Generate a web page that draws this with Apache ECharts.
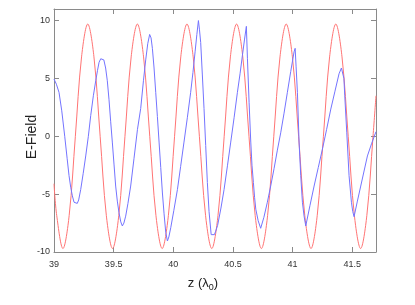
<!DOCTYPE html>
<html lang="en" style="width: 100%;height:100%">
    <head>
        <meta charset="UTF-8">
        <title>E-Field</title>
        <script src="https://cdn.jsdelivr.net/npm/echarts@6.0.0/dist/echarts.min.js"></script>
    </head>

    <body style="width: 100%;height:100%;margin:0;background:#fff">
        <div id="line" style="width: 415px;height:305px"></div>
        <script>
            // tick labels
            var xTicks = [39, 39.5, 40, 40.5, 41, 41.5];
            var yTicks = [-10, -5, 0, 5, 10];

            // red: incident field
            var redZ = [39.000, 39.023, 39.075, 39.127, 39.179, 39.231, 39.283, 39.335, 39.387, 39.439,
                        39.491, 39.543, 39.595, 39.647, 39.699, 39.751, 39.803, 39.855, 39.907, 39.959,
                        40.011, 40.063, 40.115, 40.167, 40.219, 40.271, 40.323, 40.375, 40.427, 40.479,
                        40.531, 40.583, 40.635, 40.687, 40.739, 40.791, 40.843, 40.895, 40.947, 40.999,
                        41.051, 41.103, 41.155, 41.207, 41.259, 41.311, 41.363, 41.415, 41.467, 41.519,
                        41.571, 41.623, 41.675, 41.700];
            var redE = [-4.1, -6.86, -9.7, -6.86, 0, 6.86, 9.7, 6.86, 0, -6.86,
                        -9.7, -6.86, 0, 6.86, 9.7, 6.86, 0, -6.86, -9.7, -6.86,
                        0, 6.86, 9.7, 6.86, 0, -6.86, -9.7, -6.86, 0, 6.86,
                        9.7, 6.86, 0, -6.86, -9.7, -6.86, 0, 6.86, 9.7, 6.86,
                        0, -6.86, -9.7, -6.86, 0, 6.86, 9.7, 6.86, 0, -6.86,
                        -9.7, -6.86, 0, 3.5];

            // blue: distorted field
            var blueZ = [39.000, 39.020, 39.042, 39.065, 39.090, 39.110, 39.126, 39.140, 39.154, 39.168,
                         39.180, 39.195, 39.207, 39.224, 39.245, 39.266, 39.288, 39.308, 39.330, 39.350,
                         39.365, 39.378, 39.392, 39.405, 39.418, 39.433, 39.447, 39.461, 39.475, 39.489,
                         39.503, 39.517, 39.531, 39.545, 39.560, 39.573, 39.586, 39.601, 39.620, 39.643,
                         39.671, 39.700, 39.727, 39.750, 39.769, 39.786, 39.802, 39.814, 39.825, 39.839,
                         39.853, 39.867, 39.881, 39.895, 39.909, 39.923, 39.937, 39.951, 39.963, 39.979,
                         40.005, 40.035, 40.062, 40.090, 40.118, 40.146, 40.165, 40.183, 40.198, 40.211,
                         40.220, 40.230, 40.244, 40.258, 40.272, 40.286, 40.300, 40.318, 40.330, 40.345,
                         40.356, 40.372, 40.400, 40.426, 40.455, 40.482, 40.510, 40.538, 40.560, 40.580,
                         40.598, 40.613, 40.622, 40.636, 40.650, 40.660, 40.672, 40.682, 40.692, 40.712,
                         40.733, 40.760, 40.789, 40.817, 40.845, 40.873, 40.901, 40.929, 40.957, 40.985,
                         41.013, 41.022, 41.030, 41.041, 41.055, 41.069, 41.083, 41.097, 41.111, 41.146,
                         41.181, 41.216, 41.251, 41.286, 41.321, 41.356, 41.390, 41.410, 41.424, 41.431,
                         41.438, 41.455, 41.474, 41.494, 41.505, 41.516, 41.544, 41.572, 41.600, 41.628,
                         41.664, 41.700];
            var blueE = [4.95, 4.5, 3.8, 2.2, 0.0, -1.9, -3.4, -4.4, -5.15, -5.7,
                         -5.85, -5.8, -5.5, -4.6, -3.2, -1.7, 0.0, 1.8, 3.5, 4.8,
                         5.7, 6.4, 6.7, 6.8, 6.6, 5.9, 4.8, 3.2, 1.3, -0.5,
                         -2.4, -4.3, -5.6, -6.6, -7.4, -7.75, -7.5, -6.9, -5.8, -4.3,
                         -1.9, 0.6, 2.4, 4.8, 6.6, 8.0, 8.8, 8.5, 7.6, 5.9,
                         3.8, 1.7, -0.5, -2.7, -4.9, -6.7, -8.3, -9.05, -8.7, -7.9,
                         -6.4, -4.6, -2.6, -0.5, 1.6, 3.8, 5.5, 7.3, 8.8, 10.0,
                         9.2, 8.1, 5.3, 2.4, -0.8, -4.0, -6.5, -8.5, -8.6, -8.5,
                         -8.2, -7.7, -6.2, -4.6, -2.5, -0.5, 1.6, 3.8, 5.4, 7.0,
                         8.4, 9.5, 6.7, 2.9, -0.5, -2.5, -4.0, -5.3, -6.3, -7.3,
                         -7.95, -7.0, -5.7, -4.3, -2.8, -1.2, 0.3, 2.0, 3.8, 5.6,
                         7.3, 7.6, 6.0, 3.8, -0.5, -3.4, -5.7, -6.9, -7.75, -6.0,
                         -4.3, -2.7, -1.1, 0.6, 2.35, 3.9, 5.4, 5.9, 6.05, 5.0,
                         3.5, 0.3, -3.4, -5.7, -6.5, -6.95, -5.6, -4.3, -3.0, -1.7,
                         -0.6, 0.4];

            function pairs(xs, ys) {
                return xs.map(function (x, i) { return [x, ys[i]]; });
            }

            var frame = '#8a8a8a';
            var labelFont = 'Liberation Sans Narrow, Liberation Sans, sans-serif';

            function xAx(pos, labels) {
                return {
                    type: 'value', position: pos, min: 39, max: 41.7,
                    axisLine: { show: true, onZero: false, lineStyle: { color: frame, width: 1 } },
                    axisTick: { show: true, inside: true, length: 5, customValues: xTicks, lineStyle: { color: frame } },
                    axisLabel: { show: labels, customValues: xTicks, margin: 8, fontSize: 9, color: '#333', fontFamily: labelFont },
                    splitLine: { show: false }
                };
            }
            function yAx(pos, labels) {
                return {
                    type: 'value', position: pos, min: -10, max: 11,
                    axisLine: { show: true, onZero: false, lineStyle: { color: frame, width: 1 } },
                    axisTick: { show: true, inside: true, length: 5, customValues: yTicks, lineStyle: { color: frame } },
                    axisLabel: { show: labels, customValues: yTicks, margin: 4, fontSize: 9, color: '#333', fontFamily: labelFont },
                    splitLine: { show: false }
                };
            }

            const myChart = echarts.init(document.getElementById('line'), null, { renderer: 'canvas' });

            const option = {
                animation: false,
                backgroundColor: '#fff',
                grid: { left: 54, top: 9, right: 39, bottom: 53 },
                xAxis: [xAx('bottom', true), xAx('top', false)],
                yAxis: [yAx('left', true), yAx('right', false)],
                series: [
                    {
                        type: 'line', data: pairs(redZ, redE), showSymbol: false, smooth: 0.35,
                        lineStyle: { color: '#ff7474', width: 1 }
                    },
                    {
                        type: 'line', data: pairs(blueZ, blueE), showSymbol: false,
                        lineStyle: { color: '#7474ff', width: 1 }
                    }
                ],
                graphic: [
                    {
                        type: 'text', x: 32, y: 137, rotation: Math.PI / 2,
                        style: {
                            text: 'E-Field', fontSize: 14, fontFamily: 'Liberation Sans, sans-serif',
                            fill: '#222', textAlign: 'center', textVerticalAlign: 'middle'
                        }
                    },
                    {
                        type: 'text', x: 203, y: 283,
                        style: {
                            text: '{a|z (λ}{s|0}{a|)}', fill: '#222', textAlign: 'center', textVerticalAlign: 'middle',
                            rich: {
                                a: { fontSize: 13, fontFamily: 'Liberation Sans, sans-serif', fill: '#222' },
                                s: { fontSize: 9, fontFamily: 'Liberation Sans, sans-serif', fill: '#222', padding: [10, 0, 0, 0] }
                            }
                        }
                    }
                ]
            };

            myChart.setOption(option);
        </script>
    </body>
</html>
